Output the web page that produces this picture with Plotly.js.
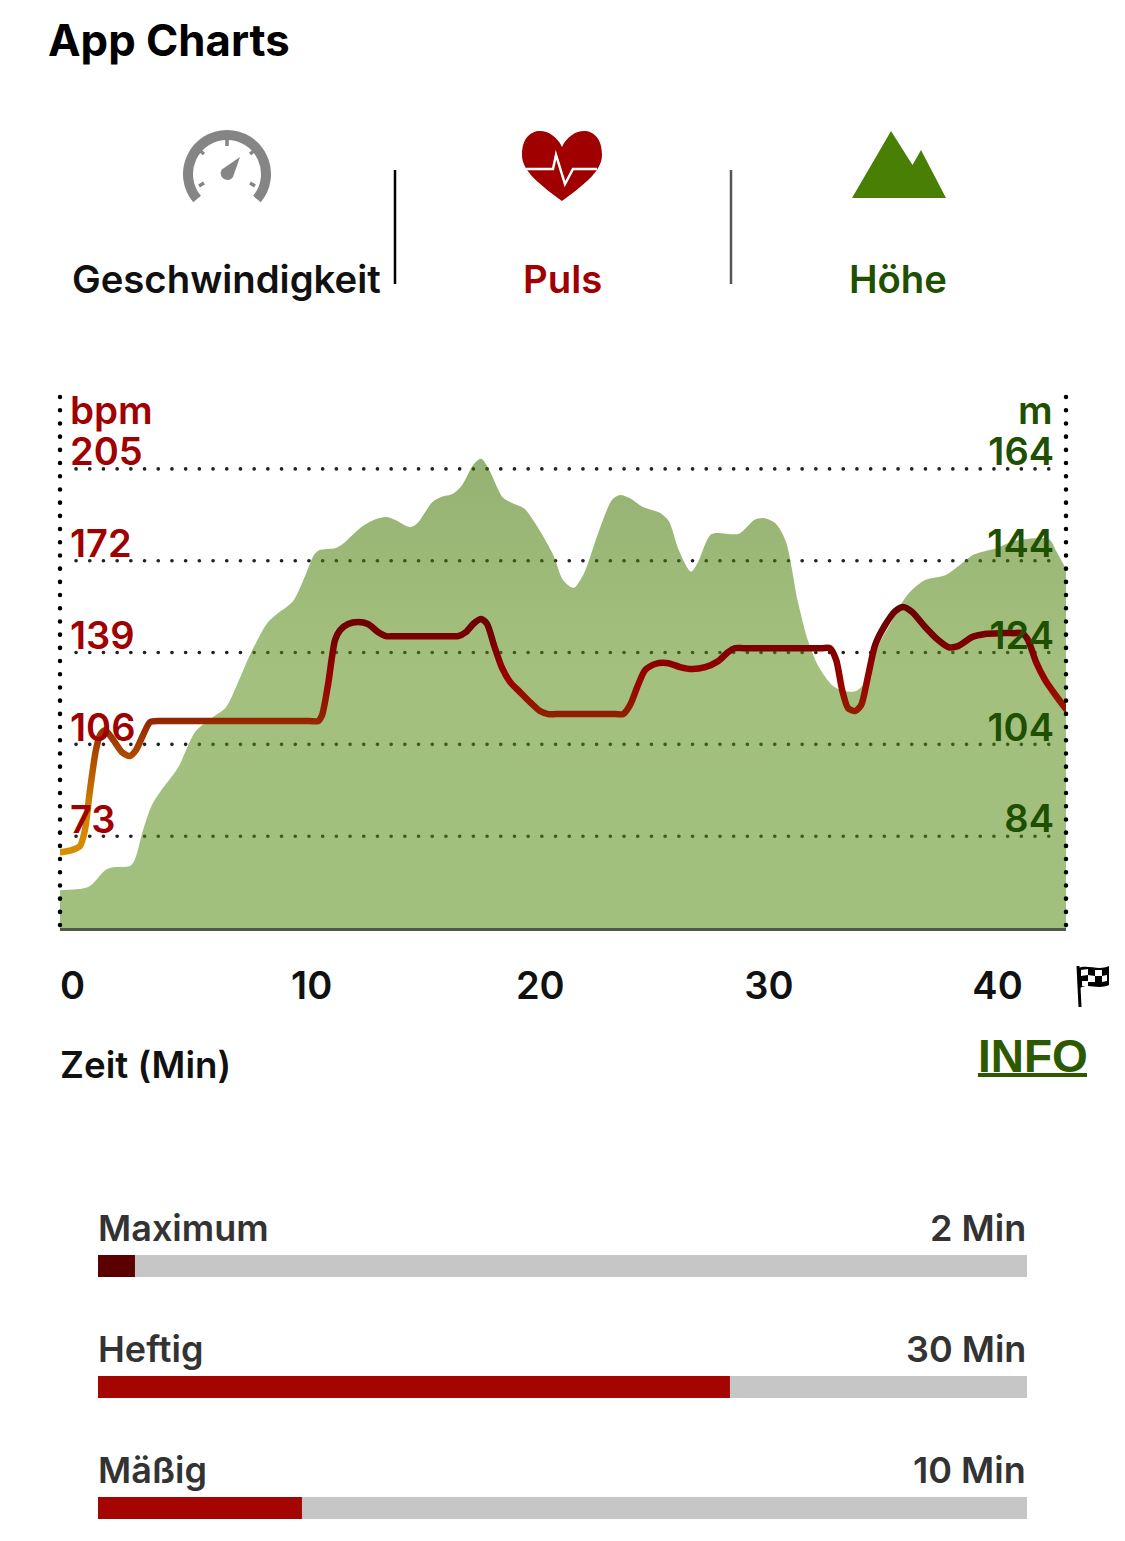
<!DOCTYPE html>
<html>
<head>
<meta charset="utf-8">
<script src="https://cdn.plot.ly/plotly-3.0.1.min.js"></script>
<style>
html,body{margin:0;padding:0;background:#fff}
#chart{width:1125px;height:1541px}
.shapelayer path[style*="0.1px"]{stroke-linecap:round}
</style>
</head>
<body>
<div id="chart"></div>
<script>
// Minutes and metres of the elevation profile
const altMinutes = [0,1.09,1.4,1.97,2.27,3.06,3.28,3.63,4.02,4.4,5.16,5.91,6.65,7.26,7.7,8.31,9.06,9.54,10.19,10.72,11.11,11.33,12.07,12.38,13.12,13.74,14.26,14.65,15.31,15.62,16.29,16.67,17.19,17.59,18.11,18.42,18.72,19.38,19.77,20.3,20.82,21.57,22,22.46,22.92,23.53,24.15,24.5,24.89,25.5,26.25,26.62,27.08,27.6,27.91,28.5,29.7,30.38,30.75,31.28,31.74,32.27,32.72,33.16,33.77,34.3,34.82,35.28,35.74,36.33,37.1,37.84,38.74,39.41,39.94,40.99,41.75,43.26,43.57,44];
const altMeters = [72.2,72.7,73.5,76.6,77.2,77.5,79,85.3,90.8,93.8,98.9,106.7,109.8,112.1,116.5,123.5,130.4,132.6,135.2,140.7,145.3,146.3,146.8,147.7,151.1,152.9,153.5,152.9,151.3,152.1,156.8,157.9,158.6,160.5,165.1,166.2,164.3,157.7,156.6,155.4,151.9,145.3,139.8,138.1,141.3,149.9,157.3,158.3,157.7,155.7,154.4,152.7,146.1,141.6,143.7,149.8,149.9,152.9,153.3,152.2,148.3,135.2,126.5,121.1,116.9,115.6,115.6,118,125,130.4,136.8,139.8,140.9,143.3,145.3,146.8,148.3,148.7,146.1,142.2];
// Minutes and beats per minute of the pulse line
const pulseMinutes = [0,0.52,0.87,1.09,1.31,1.57,1.75,1.97,2.27,2.71,3.06,3.32,3.63,3.94,4.37,4.8,7,10.9,11.29,11.46,11.72,12.03,12.25,12.6,13.04,13.47,13.91,14.26,14.6,16,17.1,17.41,17.76,18.11,18.42,18.68,18.98,19.34,19.69,20.12,20.56,20.99,21.35,21.7,23,24.3,24.63,24.93,25.28,25.59,26.03,26.6,27.12,27.65,28.22,28.78,29.22,29.53,29.9,31.5,33.3,33.68,33.95,34.21,34.47,34.78,35.04,35.35,35.65,36.09,36.53,36.88,37.27,37.84,38.41,38.85,39.28,39.9,40.46,41.12,41.7,42.08,42.34,42.69,43.09,43.57,44];
const pulseBpm = [67.2,68,69.4,75.2,89.5,103.9,109.3,111.1,108.3,103.2,101.8,103.9,109.3,114,114.4,114.4,114.4,114.4,114.4,116.5,127.3,143.5,147.1,149.3,150,149.3,146.4,144.9,144.9,144.9,144.9,144.9,146.4,149.6,151.1,149.3,141.7,133.4,128.4,124.8,121.2,118,116.9,116.9,116.9,116.9,116.9,120.1,127.3,132.7,134.9,135.2,133.8,133.1,133.8,135.9,139.2,140.6,140.6,140.6,140.6,140.6,136.3,125.5,119,118,120.1,130.9,141.7,148.9,153.9,155.4,153.6,148.2,143.5,141,141.3,144.6,145.7,146,146,146,143.5,135.6,129.1,123.4,118.7];
// Axis ticks
const timeTicks = [0,10,20,30,40];
const timeLabels = ['0','10','20','30','40'];
const bpmTicks = [73,106,139,172,205];
const meterTicks = [84,104,124,144,164];
// Heart-rate zones
const zoneNames = ['Maximum','Heftig','Mäßig'];
const zoneMinutes = [1.75,29.93,9.66];
const zoneLabels = ['2 Min','30 Min','10 Min'];
const zoneTotal = [44,44,44];
const zoneColors = ['#5a0000','#a50500','#a50500'];

const W = 1125, H = 1541;
const FONT = 'Inter, "Noto Sans", sans-serif';
const RED = '#a00000', GREEN = '#1f4f00';
const PULSE_WIDTH = 6.5;

const traces = [
  {x:[0,44], y:[64,64], xaxis:'x', yaxis:'y', mode:'lines', line:{width:0}, hoverinfo:'skip', showlegend:false},
  {x:altMinutes, y:altMeters, xaxis:'x', yaxis:'y', mode:'lines', name:'Höhe',
   line:{width:0, shape:'spline', smoothing:0.8}, fill:'tonexty', fillcolor:'rgba(82,135,15,0.55)',
   fillgradient:{type:'vertical', start:64, stop:166,
     colorscale:[[0,'rgba(85,139,19,0.55)'],[0.55,'rgba(88,141,20,0.55)'],[1,'rgba(64,115,0,0.55)']]}},
  {x:pulseMinutes, y:pulseBpm, xaxis:'x', yaxis:'y2', mode:'lines', name:'Puls',
   line:{width:PULSE_WIDTH, color:RED, shape:'spline', smoothing:0.7}},
  {x:zoneTotal, y:zoneNames, xaxis:'x4', yaxis:'y4', type:'bar', orientation:'h', width:0.182,
   marker:{color:'#c6c6c6', line:{width:0}}, hoverinfo:'skip'},
  {x:zoneMinutes, y:zoneNames, xaxis:'x4', yaxis:'y4', type:'bar', orientation:'h', width:0.182,
   marker:{color:zoneColors, line:{width:0}}},
  {x:[0], y:[0], xaxis:'x3', yaxis:'y3', mode:'markers', marker:{opacity:0}, hoverinfo:'skip'}
];

const note = (text, x, y, size, color, anchor, extra) => Object.assign({
  text, x, y, xref:'x3', yref:'y3', xanchor:anchor||'left', yanchor:'middle', showarrow:false,
  font:{family:FONT, size, color, weight:600}
}, extra||{});

const annotations = [
  note('App Charts', 46, 40, 43.7, '#000', 'left', {font:{family:FONT,size:43.7,color:'#000',weight:700}}),
  note('Geschwindigkeit', 226, 279, 38.3, '#111', 'center'),
  note('Puls', 562, 279, 38.3, RED, 'center'),
  note('Höhe', 898, 279, 38.3, GREEN, 'center'),
  note('bpm', 68, 410, 38.5, RED),
  note('m', 1055, 410, 38.5, GREEN, 'right'),
  note('Zeit (Min)', 58, 1064, 36.7, '#111'),
  // the axis hides its first label next to inside y labels, so it is placed by the x scale
  {text:timeLabels[0], x:timeTicks[0], y:985, xref:'x', yref:'y3', xanchor:'center', yanchor:'middle', xshift:12, showarrow:false,
   font:{family:FONT, size:38, color:'#111', weight:600}},
  note('<b>INFO</b>', 1033, 1056, 46, '#2d5a00', 'center',
       {font:{family:'"Liberation Sans", Arial, sans-serif',size:46,color:'#2d5a00',weight:700}})
];
const zoneLabelY = [1228,1349,1470];
zoneNames.forEach((n,i)=>{
  annotations.push(note(n, 96, zoneLabelY[i], 36, '#333'));
  annotations.push(note(zoneLabels[i], 1028, zoneLabelY[i], 36, '#333', 'right'));
});

const px = (path, fill, line) => ({type:'path', xref:'x3', yref:'y3', path, fillcolor:fill||'rgba(0,0,0,0)', line:line||{width:0}, layer:'above'});
const shapes = [
  // separators
  {type:'line', xref:'x3', yref:'y3', x0:395, x1:395, y0:170, y1:284, line:{color:'#000', width:2.5}, layer:'above'},
  {type:'line', xref:'x3', yref:'y3', x0:731, x1:731, y0:170, y1:284, line:{color:'#555', width:2.5}, layer:'above'},
  // INFO underline
  {type:'line', xref:'x3', yref:'y3', x0:978, x1:1087, y0:1075, y1:1075, line:{color:'#2d5a00', width:4}, layer:'above'},
  // gauge
  px('M197.1 199.1 C187.3 187.5 185.3 171.3 191.7 157.5 C198.1 143.7 211.8 135 227 135 C242.2 135 255.9 143.7 262.3 157.5 C268.7 171.3 266.7 187.5 256.9 199.1', null, {color:'#858585', width:10}),
  px('M227 139 L227 146', null, {color:'#858585', width:3.5}),
  px('M199 150 L204 154', null, {color:'#858585', width:3.5}),
  px('M255 150 L250 154', null, {color:'#858585', width:3.5}),
  px('M199 186 L204 183', null, {color:'#858585', width:3.5}),
  px('M255 186 L250 183', null, {color:'#858585', width:3.5}),
  px('M240 157 L233 177 C230 182 222 180 221 175 C220 171 222 169 224 168 Z', '#858585'),
  // heart
  px('M562 147 C552 125 522 124 522 155 C522 172 542 186 562 201 C582 186 602 172 602 155 C602 124 572 125 562 147 Z', '#a00000'),
  px('M526 169 L553 169 L556 155 L565 184 L573 169 L597 169', null, {color:'#fff', width:2.5}),
  // mountain
  px('M852 198 L891 131 L912.5 165 L921 150 L946 198 Z', '#4a7f05'),
  // finish flag
  px('M1078 966 L1080 1007', null, {color:'#000', width:3}),
  px('M1078 968 C1088 964 1098 971 1109 966 L1109 985 C1098 990 1088 983 1080 988 Z', '#000'),
  px('M1081 970 L1088 969 L1088 975 L1081 976 Z M1095 970 L1102 970 L1102 976 L1095 976 Z M1088 975 L1095 976 L1095 982 L1088 982 Z M1102 976 L1107 975 L1107 981 L1102 982 Z M1082 981 L1088 981 L1088 986 L1082 986 Z', '#fff'),
  // vertical dotted borders
  {type:'line', xref:'x3', yref:'y3', x0:60, x1:60, y0:397, y1:928, line:{color:'#000', width:4.5, dash:'0.1px,13.1px'}, layer:'above'},
  {type:'line', xref:'x3', yref:'y3', x0:1066, x1:1066, y0:397, y1:928, line:{color:'#000', width:4.5, dash:'0.1px,13.1px'}, layer:'above'}
];
// dotted grid lines, one per altitude tick
meterTicks.forEach(v => shapes.push({type:'line', xref:'x', yref:'y', x0:0.7, x1:43.3, y0:v, y1:v,
  line:{color:'#222', width:3.6, dash:'0.1px,13.6px'}, layer:'below'}));

const tickFont = (color) => ({family:FONT, size:38, color, weight:600});
const hidden = {visible:false, fixedrange:true};

const layout = {
  width:W, height:H, margin:{l:0,r:0,t:0,b:0}, paper_bgcolor:'#fff', plot_bgcolor:'rgba(0,0,0,0)',
  showlegend:false, barmode:'overlay', hovermode:false,
  xaxis:{domain:[60/W,1066/W], range:[0,44], tickmode:'array', tickvals:timeTicks, ticktext:timeLabels,
         tickfont:tickFont('#111'), ticks:'', showgrid:false, zeroline:false, showline:true,
         linecolor:'#4d5a44', linewidth:3, anchor:'y', ticklabelstandoff:22, ticklabelshift:23},
  yaxis:{domain:[1-928/H,1-395/H], range:[64,180.1], side:'right', tickmode:'array', tickvals:meterTicks,
         tickfont:tickFont(GREEN), ticks:'', showgrid:false, zeroline:false, showline:false,
         ticklabelposition:'inside', ticklabelstandoff:9, ticklabelshift:-17, anchor:'x'},
  yaxis2:{domain:[1-928/H,1-395/H], range:[40,231.6], overlaying:'y', side:'left', tickmode:'array', tickvals:bpmTicks,
         tickfont:tickFont(RED), ticks:'', showgrid:false, zeroline:false, showline:false,
         ticklabelposition:'inside', ticklabelstandoff:7, ticklabelshift:-17, anchor:'x'},
  xaxis3:Object.assign({domain:[0,1], range:[0,W], anchor:'y3'}, hidden),
  yaxis3:Object.assign({domain:[0,1], range:[H,0], anchor:'x3'}, hidden),
  xaxis4:Object.assign({domain:[98/W,1027/W], range:[0,44], anchor:'y4'}, hidden),
  yaxis4:Object.assign({domain:[0,1-1205.5/H], type:'category', range:[2.273,-0.5], anchor:'x4'}, hidden),
  annotations, shapes
};

Plotly.newPlot('chart', traces, layout, {displayModeBar:false, staticPlot:true}).then(gd => {
  const svg = gd.querySelector('svg.main-svg');
  const NS = 'http://www.w3.org/2000/svg';
  const defs = svg.querySelector('defs');
  const g = document.createElementNS(NS,'linearGradient');
  g.setAttribute('id','pulseGrad');
  g.setAttribute('gradientUnits','userSpaceOnUse');
  g.setAttribute('x1','0');g.setAttribute('x2','0');
  g.setAttribute('y1',String(600-395));g.setAttribute('y2',String(860-395));
  [[0,'#650000'],[0.17,'#7b0000'],[0.31,'#9c0000'],[0.44,'#8f2000'],[0.62,'#b05000'],[0.8,'#d08000'],[1,'#d89000']].forEach(s=>{
    const st=document.createElementNS(NS,'stop');
    st.setAttribute('offset',s[0]);st.setAttribute('stop-color',s[1]);g.appendChild(st);
  });
  defs.appendChild(g);
  gd.querySelectorAll('.scatterlayer .js-line').forEach(p=>{
    if(parseFloat(p.style.strokeWidth)===PULSE_WIDTH){ p.style.stroke='url(#pulseGrad)'; p.style.strokeLinecap='round'; }
  });
});
</script>
</body>
</html>
